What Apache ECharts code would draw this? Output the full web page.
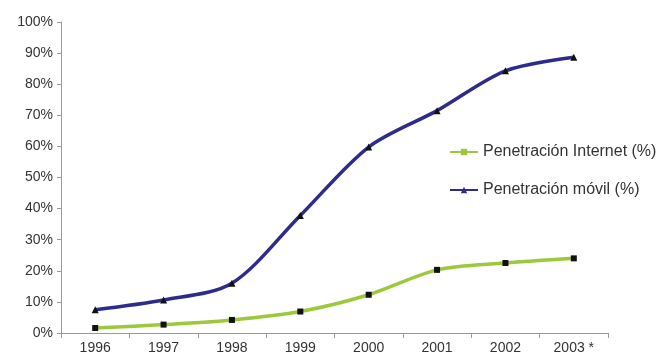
<!DOCTYPE html>
<html>
<head>
<meta charset="utf-8">
<script src="https://cdn.jsdelivr.net/npm/echarts@6/dist/echarts.min.js"></script>
<style>html,body{margin:0;padding:0;background:#fff}#c{width:656px;height:361px}</style>
</head>
<body>
<div id="c"></div>
<script>
const years = ['1996','1997','1998','1999','2000','2001','2002','2003 *'];
const internet = [1.6, 2.7, 4.2, 6.9, 12.3, 20.3, 22.5, 24.0];
const movil = [7.5, 10.6, 16.0, 37.8, 59.8, 71.5, 84.3, 88.7];
const yTicks = [0, 10, 20, 30, 40, 50, 60, 70, 80, 90, 100];
const seriesNames = ['Penetración Internet (%)', 'Penetración móvil (%)'];
const colors = ['#9cc83c', '#2d2b8c'];

const chart = echarts.init(document.getElementById('c'), null, {renderer: 'canvas'});
const font = 'Liberation Sans, Arial, sans-serif';
chart.setOption({
  animation: false,
  backgroundColor: '#fff',
  grid: {left: 61, right: 48, top: 22, bottom: 28, containLabel: false},
  legend: {
    orient: 'vertical',
    left: 444, top: 139,
    itemGap: 22,
    itemWidth: 28, itemHeight: 8,
    data: [
      {name: seriesNames[0], itemStyle: {color: colors[0], borderWidth: 0}},
      {name: seriesNames[1], itemStyle: {color: colors[1], borderWidth: 0}}
    ],
    textStyle: {fontFamily: font, fontSize: 16, color: '#333'}
  },
  xAxis: {
    type: 'category',
    data: years,
    boundaryGap: true,
    axisLine: {lineStyle: {color: '#999', width: 1}},
    axisTick: {show: true, length: 5, lineStyle: {color: '#999'}},
    axisLabel: {fontFamily: font, fontSize: 14, color: '#333', margin: 8}
  },
  yAxis: {
    type: 'value',
    min: yTicks[0], max: yTicks[yTicks.length - 1], interval: 10,
    axisLine: {show: true, lineStyle: {color: '#999', width: 1}},
    axisTick: {show: true, length: 4, lineStyle: {color: '#999'}},
    splitLine: {show: false},
    axisLabel: {fontFamily: font, fontSize: 14, color: '#333', margin: 8, formatter: '{value}%'}
  },
  series: [
    {
      name: seriesNames[0], type: 'line', data: internet, smooth: 0.3,
      symbol: 'rect', symbolSize: 6,
      lineStyle: {color: colors[0], width: 3.5},
      itemStyle: {color: '#111'}
    },
    {
      name: seriesNames[1], type: 'line', data: movil, smooth: 0.3,
      symbol: 'triangle', symbolSize: 7,
      lineStyle: {color: colors[1], width: 3.5},
      itemStyle: {color: '#111'}
    }
  ]
});
</script>
</body>
</html>
